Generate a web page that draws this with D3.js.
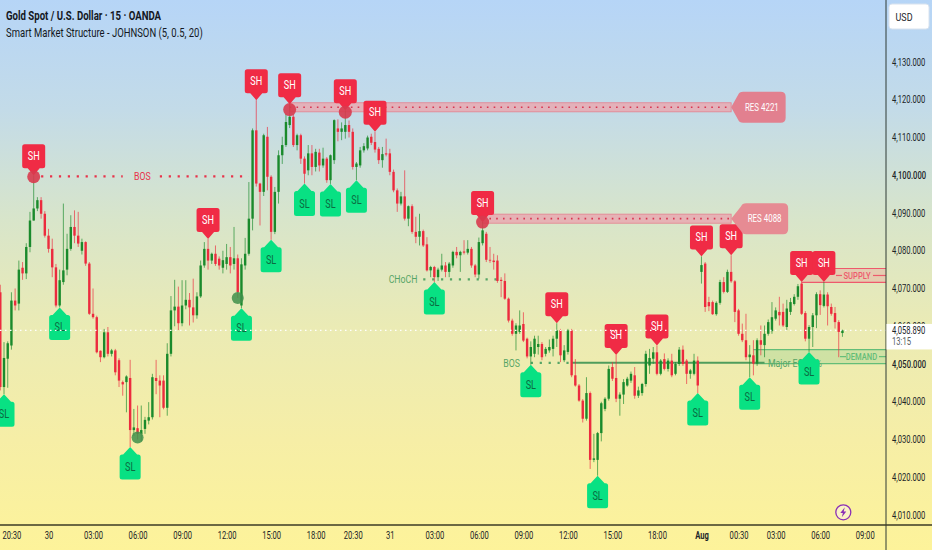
<!DOCTYPE html>
<html>
<head>
<meta charset="utf-8">
<script src="https://cdn.jsdelivr.net/npm/d3@7"></script>
<style>
  html, body { margin: 0; padding: 0; background: #fff; }
  svg { display: block; font-family: Roboto, "Noto Sans", sans-serif; }
</style>
</head>
<body>
<div id="chart"></div>
<script>
// every bar row is [open, close, high, low]
var barsJul29Late = [
  [4069,4043.9,4071,4043],[4043.9,4051.6,4055.8,4042],[4051.4,4055.5,4056,4043.7],[4054.9,4066.8,4069,4053.8],
  [4066.8,4065.5,4070,4064.2],[4066,4075,4077.4,4064.2],[4075.5,4074,4077,4072.3],[4074,4081,4082,4072.5],
  [4081,4088,4090.3,4079.6],[4088,4091.2,4100,4088],[4091.2,4093.4,4094.2,4090.5],[4093.4,4089.8,4094.2,4088.5],
  [4089.8,4084,4090.5,4083.5]
];
var barsJul30Night = [
  [4084,4080.5,4085.8,4079.5],[4080.5,4075.6,4083.2,4073],[4075.6,4065.5,4076.5,4065],[4065.5,4072.2,4075,4065],
  [4071.7,4074.8,4092.5,4071],[4075,4080.5,4084.5,4073.5],[4080.5,4086.3,4089.4,4080],[4086.3,4084,4090.7,4082],
  [4084,4081.9,4090.3,4081],[4080,4082.3,4083.2,4079],[4082.3,4076.6,4082.5,4076],[4076.6,4063.3,4077,4063],
  [4063.3,4062.4,4070,4062],[4062.4,4053.1,4062.8,4052.8],[4053.5,4051.8,4053.6,4050.5],[4051.8,4058.4,4059.3,4051.5],
  [4058.4,4052.7,4059.8,4052],[4052.7,4053.6,4054,4052],[4053.6,4047.8,4054,4047],[4051,4045.6,4051.5,4043.9],
  [4045.2,4044.6,4045.6,4041.6],[4045.2,4046.7,4047,4037.2],[4046.3,4032.5,4051.1,4028],[4032.5,4033.2,4038.1,4031]
];
var barsJul30Morning = [
  [4033,4031.5,4039,4030],[4031.5,4032.5,4039,4029.5],[4032.8,4035.2,4036,4031.5],[4035,4035.9,4039.9,4034],
  [4035.9,4046.5,4047.4,4035.3],[4046.3,4045.5,4051.1,4042],[4045.6,4044.3,4047,4035.9],[4045.6,4038.4,4047,4038],
  [4038.4,4052.7,4055.5,4036.3],[4052.7,4064.2,4068,4052],[4064.2,4065.2,4072.3,4060],[4065.2,4060.8,4070.5,4059],
  [4060.8,4065.5,4072.2,4060],[4065.5,4067,4072.2,4064.5],[4067,4065,4068.8,4060.2],[4065,4062.9,4072.6,4061],
  [4062.9,4067.9,4069,4062],[4067.9,4076.1,4077.4,4067.5],[4076.1,4080.5,4082.3,4075.5],[4080.5,4077.4,4083.1,4075],
  [4077.4,4079.2,4079.5,4076.5],[4079.2,4076.5,4081.4,4076],[4077.9,4076.1,4078.5,4075],[4075.5,4077.5,4080,4074]
];
var barsJul30Noon = [
  [4076.5,4078.3,4081.8,4075],[4078.3,4076.1,4081,4074],[4076.5,4078,4086.3,4075],[4078,4069,4079,4067.5],
  [4065.5,4076.4,4078,4064.8],[4076.1,4079.2,4083.4,4075],[4079.2,4088.5,4098.2,4078.7],[4088.5,4111.9,4112.4,4085.4],
  [4111.9,4097.8,4119.9,4097],[4097.8,4095.6,4098,4086.7],[4095.6,4110.6,4111,4094.5],[4110.2,4099.6,4112.8,4096],
  [4099.6,4085,4100,4082.9],[4085,4095.6,4096.9,4084.4],[4095.6,4105.3,4106.6,4092.5],[4105.3,4108,4110.2,4103],
  [4108,4114.1,4116.3,4107.5],[4113.3,4115.5,4118.8,4112.5],[4115.5,4108,4116,4107.5],[4108,4110.6,4111,4106.6],
  [4110.6,4104.4,4111,4103],[4104.4,4100.4,4105,4097.8],[4101.3,4105.8,4108,4100],[4105.8,4102.2,4108,4100]
];
var barsJul30Evening = [
  [4102.2,4106.2,4107,4101],[4106,4102.6,4107,4101],[4102.6,4104.4,4107.3,4102],[4104.4,4098.7,4104.8,4098],
  [4098.7,4105.3,4105.5,4097.7],[4104,4114.6,4114.8,4103],[4112.4,4111.5,4114.8,4109],[4111.5,4112.4,4114,4109.3],
  [4111.5,4113.3,4117.2,4109.7],[4113.3,4111.5,4114.5,4110],[4111.5,4102.2,4112.4,4101.5],[4102.2,4103.1,4103.5,4098.7],
  [4102.6,4106.6,4107.5,4102],[4106.6,4107.7,4108.5,4106],[4107.1,4110,4110.5,4106.6],[4110.2,4108.6,4111,4108],
  [4108.8,4106.8,4111.5,4106],[4107,4104,4107.5,4103],[4104,4105.6,4107.5,4102],[4105.8,4105.5,4109.7,4105]
];
var barsJul31Night = [
  [4105.8,4100.9,4107,4100],[4100.9,4096,4101.5,4095.5],[4096,4092.5,4096.5,4090.3],[4092.5,4094.4,4095.6,4092],
  [4094.4,4088.5,4101.3,4088],[4088.5,4091.8,4092,4086.5],[4091.8,4085,4092.3,4084.5],[4085,4083.7,4089,4082],
  [4083.7,4085.2,4089.8,4081.4],[4085.2,4081.4,4085.6,4081],[4081.7,4074.8,4083.6,4074.5],[4074.8,4075.7,4076,4073],
  [4075.7,4073,4076,4071.7],[4073,4075,4075.5,4072],[4075,4076.1,4079.2,4074.5],[4076.1,4074.4,4077,4073],
  [4074.4,4076.6,4077,4073],[4076.1,4079.7,4080,4075.5],[4079.7,4078.8,4081,4078],[4078.8,4079.7,4080,4074.4],
  [4079.8,4079.5,4082.8,4079],[4079.5,4080.5,4082.8,4079],[4080.5,4076.1,4081,4075.5],[4076.1,4073.7,4076.5,4073]
];
var barsJul31Morning = [
  [4073.7,4082.3,4083.5,4072.6],[4082,4085.4,4087.6,4081.4],[4084.5,4077.6,4085,4077],[4077.6,4077.4,4081,4076.8],
  [4077.4,4077,4079.2,4075],[4077.4,4072,4078.8,4071.5],[4072.3,4072,4073,4067.7],[4072,4067.3,4074,4067],
  [4067.3,4061.5,4067.6,4061],[4061.5,4058,4062,4057.5],[4058,4060.2,4060.8,4053.6],[4058.5,4060.2,4064.2,4058],
  [4060.6,4056.2,4063.7,4055.8],[4056.7,4052,4057,4051.5],[4052,4054.5,4056,4049.8],[4052.7,4056.7,4057.5,4051.8],
  [4054.5,4055.3,4057.5,4052.5],[4055.3,4051.8,4055.8,4051],[4052.7,4054,4054.5,4052],[4053.6,4054.5,4056.5,4053],
  [4054,4056.7,4057.5,4052],[4056.7,4058.9,4060.8,4054.5],[4058.9,4052.3,4059.3,4050.5],[4051,4053.6,4055,4050.5]
];
var barsJul31Noon = [
  [4053.2,4058.9,4059.3,4052.5],[4058.9,4047,4059.3,4046.5],[4047,4044.3,4051.3,4044],[4044.3,4040.3,4044.7,4040],
  [4040.3,4035.5,4040.7,4034.5],[4035.5,4042.3,4046.5,4035],[4042.3,4024.6,4042.7,4022.2],[4024.6,4025,4031.5,4024],
  [4024.6,4031.7,4032,4020.4],[4031.7,4039.6,4040,4029.5],[4038.1,4040.8,4041.2,4037.5],[4040.8,4048.7,4049.6,4040.3],
  [4049.2,4046.1,4050.5,4045.5],[4046.3,4040.8,4052.4,4039.9],[4040.8,4041.9,4042.5,4036.3],[4041.9,4045.2,4046,4039.4],
  [4044.3,4046.1,4046.6,4044],[4045.6,4047.4,4048,4045],[4047,4041.6,4049.2,4040.8],[4041.6,4043,4044,4041],
  [4042.3,4044.7,4045,4041.6],[4044.7,4052.7,4053.5,4044],[4049.6,4051.6,4054,4047.4],[4051.4,4053.1,4054.5,4050]
];
var barsJul31Evening = [
  [4053.1,4047.4,4054.9,4047],[4047.4,4050.9,4051.3,4047],[4051.3,4048.7,4052.8,4048.3],[4048.7,4050.9,4051.5,4048],
  [4050.9,4047,4052.7,4046.5],[4047.4,4050,4050.5,4047],[4050,4053.8,4054.5,4049.5],[4053.8,4050,4054.9,4049.5],
  [4050.9,4047.4,4051.3,4044.7],[4047.4,4048.3,4048.7,4046.1],[4047.4,4050.9,4052.7,4047],[4050.9,4044.3,4052,4042.3]
];
var barsAug1 = [
  [4074.4,4076.2,4078.5,4071.3],[4076.6,4065.1,4077,4063.8],[4066.4,4065.3,4067.8,4064],[4066.4,4063.2,4066.8,4063],
  [4063.2,4066.2,4066.6,4062.8],[4066.2,4071.7,4072.3,4065.7],[4071.7,4069.1,4073,4068.7],[4069.1,4074.4,4075,4068.8],
  [4074.4,4071.9,4078.8,4071.5],[4071.9,4063.8,4072.2,4061.1],[4064.2,4058,4064.6,4057.5],[4058,4056.3,4060.7,4055.8],
  [4056.3,4051.8,4063.3,4051],[4051.8,4052.5,4055,4046.5],[4052.3,4050.1,4056.3,4047],[4050.1,4056.3,4056.8,4049.5],
  [4056.3,4055.1,4060.2,4052.3],[4055,4058,4060.2,4051.8],[4058,4061.1,4061.8,4057.5],[4058.7,4062.4,4066.4,4058],
  [4062,4064.2,4065,4061.5],[4063.8,4062.9,4067.8,4060.2],[4063.8,4060.2,4066,4059.8],[4059.8,4064.7,4067,4059],
  [4063.8,4066.4,4067.5,4063],[4065.9,4067.8,4068.5,4065.5],[4067.8,4070.6,4071.2,4067],[4071.3,4063.3,4071.7,4063],
  [4063.5,4056.7,4064,4056],[4056.7,4059.8,4060.3,4053.2],[4059.8,4062.9,4063.5,4054.5],[4062.9,4068.5,4069,4059.5],
  [4068.5,4065.6,4069.5,4063],[4065.4,4068.4,4071.7,4065],[4068.4,4065.3,4069,4060.2],[4065.1,4063.3,4066,4062.8],
  [4063.5,4061.1,4065.1,4059.4],[4061.1,4058.5,4061.6,4051.8],[4058.2,4058.89,4059.1,4057.2]
];

// swing markers, as bar numbers
var swingHighBars = [9, 56, 69, 78, 93, 101, 130, 150, 166, 177, 189, 197, 216, 222];
var swingLowBars = [1, 16, 35, 65, 73, 82, 89, 96, 117, 143, 161, 188, 202, 218];

// the translucent dots on top of the swings
var redDotBars = [9, 78, 93, 130];
var redDotPrices = [4099.6, 4117.4, 4116.7, 4087.6];
var greenDotBars = [37, 64];
var greenDotPrices = [4030.5, 4067.5];

// resistance bands with their callouts
var resNames = ["RES 4221", "RES 4088"];
var resStartBars = [78, 130];
var resEndBars = [197, 197];
var resTops = [4119.2, 4089.7];
var resBottoms = [4116.8, 4087.3];

var priceTicks = [4130, 4120, 4110, 4100, 4090, 4080, 4070, 4060, 4050, 4040, 4030, 4020, 4010];
var timeTickBars = [3, 13, 25, 37, 49, 61, 73, 85, 95, 105, 117, 129, 141, 153, 165, 177, 189, 199, 209, 221, 233];
var timeTickLabels = ["20:30", "30", "03:00", "06:00", "09:00", "12:00", "15:00", "18:00", "20:30", "31", "03:00",
  "06:00", "09:00", "12:00", "15:00", "18:00", "Aug", "00:30", "03:00", "06:00", "09:00"];

var lastPrice = 4058.89;

var width = 932, height = 550;
var plotRight = 886, plotBottom = 525;
var green = "#1a8a2c", red = "#ec2b3e", softGreen = "#56a566", softRed = "#e8324a";

var bars = [].concat(barsJul29Late, barsJul30Night, barsJul30Morning, barsJul30Noon, barsJul30Evening,
  barsJul31Night, barsJul31Morning, barsJul31Noon, barsJul31Evening, barsAug1);

var x = d3.scaleLinear().domain([0, 233]).range([0.3, 864.7]);
var y = d3.scaleLinear().domain([4010, 4130]).range([515, 62]);

var svg = d3.select("#chart").append("svg").attr("width", width).attr("height", height);

// squeeze text horizontally, the reference has a narrow face
function narrow(sel, ratio) {
  sel.each(function () {
    var t = d3.select(this), px = +t.attr("x") || 0;
    t.attr("x", 0).attr("transform", "translate(" + px + ",0) scale(" + ratio + ",1)");
  });
  return sel;
}

var grad = svg.append("defs").append("linearGradient").attr("id", "bg")
  .attr("x1", 0).attr("y1", 0).attr("x2", 0).attr("y2", 1);
[[0, "#b6d5f7"], [0.2, "#c3dbe8"], [0.4, "#d8e5ca"], [0.6, "#ebebb4"], [0.8, "#f6eea6"], [1, "#fdf39a"]].forEach(function (s) {
  grad.append("stop").attr("offset", s[0]).attr("stop-color", s[1]);
});
svg.append("rect").attr("width", width).attr("height", height).attr("fill", "url(#bg)");

// resistance bands
resNames.forEach(function (name, k) {
  var x0 = x(resStartBars[k]), x1 = x(resEndBars[k]);
  var yTop = y(resTops[k]), yBot = y(resBottoms[k]), yMid = (yTop + yBot) / 2;
  svg.append("rect").attr("x", x0).attr("y", yTop).attr("width", x1 - x0).attr("height", yBot - yTop)
    .attr("fill", "#e9a9b2").attr("fill-opacity", 0.85).attr("stroke", "#e4808f").attr("stroke-width", 0.8);
  svg.append("line").attr("x1", x0).attr("x2", x1).attr("y1", yMid).attr("y2", yMid)
    .attr("stroke", "#d9344f").attr("stroke-width", 1.6).attr("stroke-dasharray", "1.6 5.2");
});

// supply and demand boxes
function zone(startBar, topPrice, botPrice, color, fill, label, labelX, gapLeft, gapRight, midLeft) {
  var x0 = x(startBar), yTop = y(topPrice), yBot = y(botPrice), yMid = (yTop + yBot) / 2;
  svg.append("rect").attr("x", x0).attr("y", yTop).attr("width", plotRight - x0).attr("height", yBot - yTop)
    .attr("fill", fill);
  [yTop, yBot].forEach(function (v) {
    svg.append("line").attr("x1", x0).attr("x2", plotRight).attr("y1", v).attr("y2", v)
      .attr("stroke", color).attr("stroke-width", 1.2);
  });
  svg.append("line").attr("x1", midLeft).attr("x2", gapLeft).attr("y1", yMid).attr("y2", yMid)
    .attr("stroke", color).attr("stroke-width", 1.2);
  svg.append("line").attr("x1", gapRight).attr("x2", plotRight).attr("y1", yMid).attr("y2", yMid)
    .attr("stroke", color).attr("stroke-width", 1.2);
  narrow(svg.append("text").attr("x", labelX).attr("y", yMid + 3.4).attr("text-anchor", "middle")
    .attr("font-size", 9.5).attr("font-weight", 500).attr("fill", color).text(label), 0.8);
}
zone(216, 4075.3, 4071.6, "#ee5a6c", "rgba(238,120,130,0.25)", "SUPPLY", 857, 842, 873, 836);
zone(203, 4053.8, 4050.1, "#63bd78", "rgba(99,189,120,0.22)", "DEMAND", 861.5, 846, 879, 840);

// structure lines
function dotted(barA, barB, price, color) {
  svg.append("line").attr("x1", x(barA)).attr("x2", x(barB)).attr("y1", y(price)).attr("y2", y(price))
    .attr("stroke", color).attr("stroke-width", 2.2).attr("stroke-dasharray", "2.2 6.7");
}
dotted(11, 33, 4099.7, softRed);
dotted(43, 67, 4099.7, softRed);
dotted(114, 134, 4072.4, softGreen);
dotted(143, 154, 4050.3, softGreen);
svg.append("line").attr("x1", x(154)).attr("x2", x(206)).attr("y1", y(4050.3)).attr("y2", y(4050.3))
  .attr("stroke", "#4f9d5c").attr("stroke-width", 2);

function structureLabel(px, price, txt, color, anchor) {
  narrow(svg.append("text").attr("x", px).attr("y", y(price) + 4).attr("text-anchor", anchor)
    .attr("font-size", 11.5).attr("fill", color).text(txt), 0.76);
}
structureLabel(x(38.3), 4099.7, "BOS", softRed, "middle");
structureLabel(417.5, 4072.4, "CHoCH", softGreen, "end");
structureLabel(520, 4050.3, "BOS", softGreen, "end");
structureLabel(768, 4050.3, "Major EQ 50%", softGreen, "start");

// candles
var candle = svg.append("g").selectAll("g").data(bars).enter().append("g")
  .attr("stroke", function (d) { return d[1] >= d[0] ? green : red; })
  .attr("fill", function (d) { return d[1] >= d[0] ? green : red; });
candle.append("line")
  .attr("x1", function (d, i) { return x(i); }).attr("x2", function (d, i) { return x(i); })
  .attr("y1", function (d) { return y(d[2]); }).attr("y2", function (d) { return y(d[3]); })
  .attr("stroke-width", 0.9).attr("stroke-opacity", 0.75);
candle.append("rect")
  .attr("x", function (d, i) { return x(i) - 1.2; }).attr("width", 2.4)
  .attr("y", function (d) { return y(Math.max(d[0], d[1])); })
  .attr("height", function (d) { return Math.max(0.8, Math.abs(y(d[0]) - y(d[1]))); })
  .attr("stroke", "none");

// SH and SL flags
function flagPath(dir, halfW, bodyH, tipH, arrow) {
  // dir -1 points down with the body above the tip, +1 points up with the body below
  var p = d3.path(), r = 2.5;
  p.moveTo(0, 0);
  p.lineTo(arrow, dir * tipH);
  p.lineTo(halfW - r, dir * tipH);
  p.quadraticCurveTo(halfW, dir * tipH, halfW, dir * (tipH + r));
  p.lineTo(halfW, dir * (tipH + bodyH - r));
  p.quadraticCurveTo(halfW, dir * (tipH + bodyH), halfW - r, dir * (tipH + bodyH));
  p.lineTo(-halfW + r, dir * (tipH + bodyH));
  p.quadraticCurveTo(-halfW, dir * (tipH + bodyH), -halfW, dir * (tipH + bodyH - r));
  p.lineTo(-halfW, dir * (tipH + r));
  p.quadraticCurveTo(-halfW, dir * tipH, -halfW + r, dir * tipH);
  p.lineTo(-arrow, dir * tipH);
  p.closePath();
  return p.toString();
}

var highFlag = svg.append("g").selectAll("g").data(swingHighBars).enter().append("g")
  .attr("transform", function (b) { return "translate(" + x(b) + "," + y(bars[b][2]) + ")"; });
highFlag.append("path").attr("d", flagPath(-1, 11.5, 24, 7, 6)).attr("fill", "#f02b45");
narrow(highFlag.append("text").attr("y", -15.5).attr("text-anchor", "middle").attr("font-size", 12)
  .attr("fill", "#fff").text("SH"), 0.76);

var lowFlag = svg.append("g").selectAll("g").data(swingLowBars).enter().append("g")
  .attr("transform", function (b) { return "translate(" + x(b) + "," + y(bars[b][3]) + ")"; });
lowFlag.append("path").attr("d", flagPath(1, 10.5, 25, 7.5, 7)).attr("fill", "#08e183");
narrow(lowFlag.append("text").attr("y", 24).attr("text-anchor", "middle").attr("font-size", 12)
  .attr("fill", "#0b6b42").text("SL"), 0.76);

// swing dots
svg.append("g").selectAll("circle").data(redDotBars).enter().append("circle")
  .attr("cx", function (b) { return x(b); })
  .attr("cy", function (b, k) { return y(redDotPrices[k]); })
  .attr("r", 6.5).attr("fill", "#d83a4e").attr("fill-opacity", 0.9);
svg.append("g").selectAll("circle").data(greenDotBars).enter().append("circle")
  .attr("cx", function (b) { return x(b); })
  .attr("cy", function (b, k) { return y(greenDotPrices[k]); })
  .attr("r", 6).attr("fill", "#3f8f4a").attr("fill-opacity", 0.85);

// callouts for the resistance bands
resNames.forEach(function (name, k) {
  var tipX = x(resEndBars[k]), yMid = y((resTops[k] + resBottoms[k]) / 2);
  var bodyL = tipX + (k === 0 ? 7 : 10), bodyR = tipX + (k === 0 ? 54.5 : 57);
  var t = yMid - 15.5, b = yMid + 15.5, r = 5;
  var p = d3.path();
  p.moveTo(tipX, yMid);
  p.lineTo(bodyL, t + 3);
  p.quadraticCurveTo(bodyL + 1, t, bodyL + r, t);
  p.lineTo(bodyR - r, t);
  p.quadraticCurveTo(bodyR, t, bodyR, t + r);
  p.lineTo(bodyR, b - r);
  p.quadraticCurveTo(bodyR, b, bodyR - r, b);
  p.lineTo(bodyL + r, b);
  p.quadraticCurveTo(bodyL + 1, b, bodyL, b - 3);
  p.closePath();
  svg.append("path").attr("d", p.toString()).attr("fill", k === 0 ? "#e2808f" : "#e68b93");
  narrow(svg.append("text").attr("x", (bodyL + bodyR) / 2).attr("y", yMid + 3.8).attr("text-anchor", "middle")
    .attr("font-size", 11).attr("fill", "#fff").text(name), 0.72);
});

// last price line sits on top of the marks
svg.append("line").attr("x1", 0).attr("x2", plotRight).attr("y1", y(lastPrice)).attr("y2", y(lastPrice))
  .attr("stroke", "#fff").attr("stroke-width", 1.2).attr("stroke-dasharray", "1.5 3.5");

// frame
svg.append("line").attr("x1", plotRight).attr("x2", plotRight).attr("y1", 0).attr("y2", height)
  .attr("stroke", "#2f3a34").attr("stroke-width", 1);
svg.append("line").attr("x1", 0).attr("x2", width).attr("y1", plotBottom).attr("y2", plotBottom)
  .attr("stroke", "#3b3a26").attr("stroke-width", 1.4);

// axes
var priceAxis = d3.axisRight(y).tickValues(priceTicks).tickSize(0).tickPadding(0)
  .tickFormat(function (d) { return d3.format(",.3f")(d); });
var priceG = svg.append("g").attr("transform", "translate(" + (plotRight + 6) + ",0)").call(priceAxis);
priceG.select(".domain").remove();
priceG.selectAll("text").attr("font-size", 10).attr("fill", "#1b2428")
  .attr("font-weight", function (d) { return d === 4100 || d === 4050 ? 500 : 400; })
  .attr("font-family", "Roboto, sans-serif");
narrow(priceG.selectAll("text"), 0.76);

var timeAxis = d3.axisBottom(x).tickValues(timeTickBars).tickSize(0).tickPadding(0)
  .tickFormat(function (d, i) { return timeTickLabels[i]; });
var timeG = svg.append("g").attr("transform", "translate(0," + (plotBottom + 7) + ")").call(timeAxis);
timeG.select(".domain").remove();
timeG.selectAll("text").attr("font-size", 10).attr("fill", "#1b2428")
  .attr("font-weight", function (d, i) { return timeTickLabels[i] === "Aug" ? 700 : 400; })
  .attr("font-family", "Roboto, sans-serif");
narrow(timeG.selectAll("text"), 0.76);

// last price tag
svg.append("rect").attr("x", plotRight + 0.5).attr("y", y(lastPrice) - 6.5).attr("width", width - plotRight)
  .attr("height", 25.5).attr("fill", "#fff");
narrow(svg.append("text").attr("x", plotRight + 6).attr("y", y(lastPrice) + 3.5).attr("font-size", 10)
  .attr("fill", "#1b2428").text(d3.format(",.3f")(lastPrice)), 0.76);
narrow(svg.append("text").attr("x", plotRight + 6).attr("y", y(lastPrice) + 15).attr("font-size", 10)
  .attr("fill", "#555b60").text("13:15"), 0.76);

// currency button
svg.append("rect").attr("x", 889).attr("y", 4).attr("width", 40).attr("height", 25).attr("rx", 3)
  .attr("fill", "#fff").attr("stroke", "#d8e2ee");
narrow(svg.append("text").attr("x", 895.5).attr("y", 21).attr("font-size", 11.5).attr("fill", "#1b2428").text("USD"), 0.78);

// chart titles
narrow(svg.append("text").attr("x", 6).attr("y", 20).attr("font-size", 12.5).attr("font-weight", 700)
  .attr("fill", "#131722").text("Gold Spot / U.S. Dollar \u00b7 15 \u00b7 OANDA"), 0.77);
narrow(svg.append("text").attr("x", 6).attr("y", 37).attr("font-size", 12.5)
  .attr("fill", "#131722").text("Smart Market Structure - JOHNSON (5, 0.5, 20)"), 0.76);

// alert badge
var badge = svg.append("g").attr("transform", "translate(843.3,512.3)");
badge.append("circle").attr("r", 7.5).attr("fill", "#fbf3c4").attr("stroke", "#8b2fb5").attr("stroke-width", 1.3);
badge.append("path").attr("d", "M1.5,-5 L-3,0.8 L-0.4,0.8 L-1.5,5 L3,-0.8 L0.4,-0.8 Z").attr("fill", "#8b2fb5");
</script>
</body>
</html>
